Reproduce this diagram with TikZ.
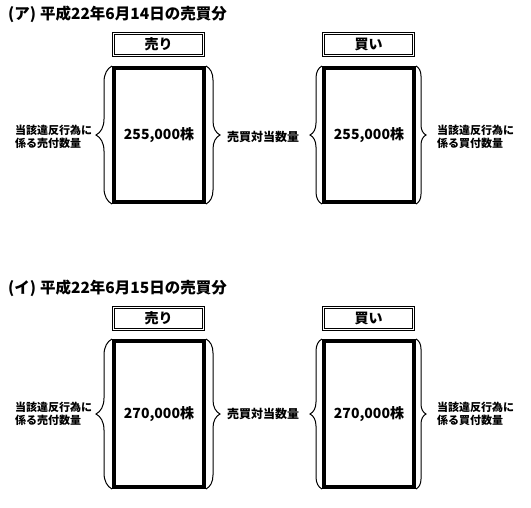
\documentclass[tikz,border=0pt]{standalone}
\usepackage{fontspec}
\setmainfont{Noto Sans CJK JP}
\usetikzlibrary{decorations.pathreplacing}
\begin{document}
\begin{tikzpicture}[x=1pt,y=-1pt,
  titletext/.style={anchor=west, inner sep=0pt, font=\fontsize{15.5}{18}\selectfont\bfseries},
  labelbox/.style={draw, double, double distance=1.6pt, line width=0.7pt, minimum width=90pt, minimum height=22pt, inner sep=0pt, font=\fontsize{14}{16}\selectfont\bfseries},
  mainbox/.style={draw, line width=4pt, minimum width=90pt, minimum height=#1, inner sep=0pt, font=\fontsize{14}{16}\selectfont\bfseries},
  curly/.style={decorate, decoration={brace, amplitude=#1}, line width=1pt},
  sidetext/.style={anchor=west, align=left, inner sep=0pt, font=\fontsize{11}{13.5}\selectfont\bfseries},
  midtext/.style={anchor=west, inner sep=0pt, font=\fontsize{12}{14}\selectfont\bfseries}]
\useasboundingbox (0,0) rectangle (531,507);

% ---------- Panel (ア) ----------
\node[titletext] (t1) at (8,14) {(ア)\hspace{4pt}平成22年6月14日の売買分};
\node[labelbox] (la1) at (158.5,44.5) {売り};
\node[labelbox] (lb1) at (368.5,44.5) {買い};
\node[mainbox=134pt] (ma1) at (159,135) {255,000株};
\node[mainbox=134pt] (mb1) at (369,135) {255,000株};
\draw[curly=16pt] (ma1.south west) -- (ma1.north west);
\draw[curly=14pt] (ma1.north east) -- (ma1.south east);
\draw[curly=12pt] (mb1.south west) -- (mb1.north west);
\draw[curly=10pt] (mb1.north east) -- (mb1.south east);
\node[sidetext] (sa1) at (15,137) {当該違反行為に\\係る売付数量};
\node[midtext] (mid1) at (227,137) {売買対当数量};
\node[sidetext] (sb1) at (437,137) {当該違反行為に\\係る買付数量};

% ---------- Panel (イ) ----------
\node[titletext] (t2) at (8,288) {(イ)\hspace{4pt}平成22年6月15日の売買分};
\node[labelbox] (la2) at (158.5,318.5) {売り};
\node[labelbox] (lb2) at (368.5,318.5) {買い};
\node[mainbox=146pt] (ma2) at (159,414) {270,000株};
\node[mainbox=146pt] (mb2) at (369,414) {270,000株};
\draw[curly=16pt] (ma2.south west) -- (ma2.north west);
\draw[curly=14pt] (ma2.north east) -- (ma2.south east);
\draw[curly=12pt] (mb2.south west) -- (mb2.north west);
\draw[curly=10pt] (mb2.north east) -- (mb2.south east);
\node[sidetext] (sa2) at (15,414) {当該違反行為に\\係る売付数量};
\node[midtext] (mid2) at (227,414) {売買対当数量};
\node[sidetext] (sb2) at (437,414) {当該違反行為に\\係る買付数量};
\end{tikzpicture}
\end{document}
